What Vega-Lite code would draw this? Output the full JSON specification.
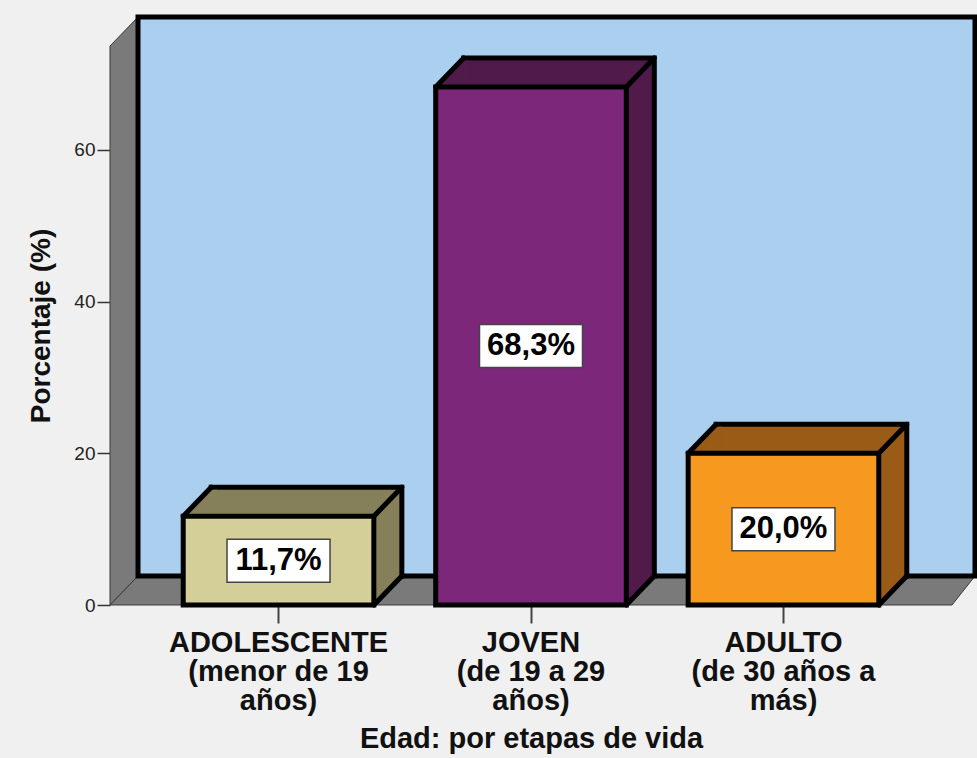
{
  "$schema": "https://vega.github.io/schema/vega-lite/v6.json",
  "width": 842,
  "height": 559,
  "autosize": {"type": "none"},
  "padding": {"left": 110, "top": 46, "right": 25, "bottom": 153},
  "background": "#f0f0f0",
  "config": {
    "view": {"stroke": null},
    "font": "Liberation Sans",
    "axis": {"grid": false, "domain": false},
    "axisX": {"titleFontSize": 29, "titleFontWeight": "bold", "titleColor": "#111111", "titlePadding": 9,
      "labelFontSize": 29, "labelFontWeight": "bold", "labelColor": "#111111", "labelLineHeight": 29, "labelAngle": 0,
      "labelLimit": 400, "labelOverlap": false, "labelPadding": 5, "tickSize": 18, "tickColor": "#444444", "tickWidth": 2},
    "axisY": {"titleFontSize": 28, "titleFontWeight": "bold", "titleColor": "#111111", "titlePadding": 18,
      "labelFontSize": 19, "labelColor": "#222222", "labelPadding": 2, "tickSize": 13, "tickColor": "#333333", "tickWidth": 1.5}
  },
  "data": {
    "values": [
      {"etapa": "ADOLESCENTE\n(menor de 19\naños)", "porcentaje": 11.7, "etiqueta": "11,7%"},
      {"etapa": "JOVEN\n(de 19 a 29\naños)", "porcentaje": 68.3, "etiqueta": "68,3%"},
      {"etapa": "ADULTO\n(de 30 años a\nmás)", "porcentaje": 20.0, "etiqueta": "20,0%"}
    ]
  },
  "layer": [
    {
      "mark": {"type": "bar", "stroke": "#000000", "strokeWidth": 5, "strokeJoin": "miter", "opacity": 0},
      "encoding": {
        "x": {"field": "etapa", "type": "nominal", "sort": null,
          "scale": {"paddingInner": 0.245, "paddingOuter": 0.29},
          "axis": {"title": "Edad: por etapas de vida", "labelExpr": "split(datum.label, '\\n')"}},
        "y": {"field": "porcentaje", "type": "quantitative",
          "scale": {"domain": [0, 73.7], "nice": false, "zero": true},
          "axis": {"values": [0, 20, 40, 60], "title": "Porcentaje (%)"}}
      }
    },
    {
      "data": {"values": [{"parte": "pared"}]},
      "mark": {"type": "point", "shape": "M0,0L28,-29L28,530L0,559Z", "size": 4, "filled": true, "fill": "#7a7a7a", "stroke": "#3a3a3a", "strokeWidth": 1, "opacity": 1},
      "encoding": {"x": {"value": 0}, "y": {"datum": 73.7, "type": "quantitative"}}
    },
    {
      "data": {"values": [{"parte": "suelo"}]},
      "mark": {"type": "point", "shape": "M0,0L28,-29L865,-29L842,0Z", "size": 4, "filled": true, "fill": "#7a7a7a", "stroke": "#3a3a3a", "strokeWidth": 1, "opacity": 1},
      "encoding": {"x": {"value": 0}, "y": {"datum": 0, "type": "quantitative"}}
    },
    {
      "data": {"values": [{"parte": "fondo"}]},
      "mark": {"type": "point", "shape": "M28,-29L865,-29L865,530L28,530Z", "size": 4, "filled": true, "fill": "#abcfee", "stroke": "#000000", "strokeWidth": 5, "strokeJoin": "miter", "opacity": 1},
      "encoding": {"x": {"value": 0}, "y": {"datum": 73.7, "type": "quantitative"}}
    },
    {
      "mark": {"type": "bar", "xOffset": 28, "yOffset": -29, "y2Offset": -29, "stroke": "#000000", "strokeWidth": 5, "strokeJoin": "miter"},
      "encoding": {
        "x": {"field": "etapa", "type": "nominal", "sort": null},
        "y": {"field": "porcentaje", "type": "quantitative"},
        "fill": {"field": "etapa", "type": "nominal", "sort": null, "legend": null,
          "scale": {"domain": ["ADOLESCENTE\n(menor de 19\naños)", "JOVEN\n(de 19 a 29\naños)", "ADULTO\n(de 30 años a\nmás)"], "range": ["#85805a", "#501a4b", "#9a5b16"]}}
      }
    },
    {
      "mark": {"type": "point", "shape": "M0,0L25.6,-26.5L34,-26.5L34,0Z", "size": 4, "filled": true, "strokeWidth": 0, "opacity": 1},
      "encoding": {
        "x": {"field": "etapa", "type": "nominal", "sort": null, "bandPosition": 0},
        "y": {"field": "porcentaje", "type": "quantitative"},
        "fill": {"field": "etapa", "type": "nominal", "sort": null, "legend": null,
          "scale": {"domain": ["ADOLESCENTE\n(menor de 19\naños)", "JOVEN\n(de 19 a 29\naños)", "ADULTO\n(de 30 años a\nmás)"], "range": ["#85805a", "#501a4b", "#9a5b16"]}}
      }
    },
    {
      "mark": {"type": "point", "shape": "M-3,0L0,0L25.5,-26.4L25.5,-32L-3,-32Z", "size": 4, "filled": true, "strokeWidth": 0, "opacity": 1},
      "encoding": {
        "x": {"field": "etapa", "type": "nominal", "sort": null, "bandPosition": 1},
        "y": {"datum": 0, "type": "quantitative"},
        "fill": {"field": "etapa", "type": "nominal", "sort": null, "legend": null,
          "scale": {"domain": ["ADOLESCENTE\n(menor de 19\naños)", "JOVEN\n(de 19 a 29\naños)", "ADULTO\n(de 30 años a\nmás)"], "range": ["#85805a", "#501a4b", "#9a5b16"]}}
      }
    },
    {
      "mark": {"type": "point", "shape": "M0,0L28,-29", "size": 4, "filled": false, "stroke": "#000000", "strokeWidth": 5, "strokeCap": "round", "opacity": 1},
      "encoding": {
        "x": {"field": "etapa", "type": "nominal", "sort": null, "bandPosition": 0},
        "y": {"field": "porcentaje", "type": "quantitative"}
      }
    },
    {
      "mark": {"type": "point", "shape": "M0,0L28,-29", "size": 4, "filled": false, "stroke": "#000000", "strokeWidth": 5, "strokeCap": "round", "opacity": 1},
      "encoding": {
        "x": {"field": "etapa", "type": "nominal", "sort": null, "bandPosition": 1},
        "y": {"field": "porcentaje", "type": "quantitative"}
      }
    },
    {
      "mark": {"type": "point", "shape": "M0,0L28,-29", "size": 4, "filled": false, "stroke": "#000000", "strokeWidth": 5, "strokeCap": "round", "opacity": 1},
      "encoding": {
        "x": {"field": "etapa", "type": "nominal", "sort": null, "bandPosition": 1},
        "y": {"datum": 0, "type": "quantitative"}
      }
    },
    {
      "mark": {"type": "bar", "stroke": "#000000", "strokeWidth": 5, "strokeJoin": "miter"},
      "encoding": {
        "x": {"field": "etapa", "type": "nominal", "sort": null},
        "y": {"field": "porcentaje", "type": "quantitative"},
        "fill": {"field": "etapa", "type": "nominal", "sort": null, "legend": null,
          "scale": {"domain": ["ADOLESCENTE\n(menor de 19\naños)", "JOVEN\n(de 19 a 29\naños)", "ADULTO\n(de 30 años a\nmás)"], "range": ["#d4cf98", "#7c277a", "#f7981f"]}}
      }
    },
    {
      "mark": {"type": "point", "shape": "M-51.5,-21.5L51.5,-21.5L51.5,21.5L-51.5,21.5Z", "size": 4, "filled": true, "fill": "#ffffff", "stroke": "#444444", "strokeWidth": 1.5, "opacity": 1},
      "encoding": {
        "x": {"field": "etapa", "type": "nominal", "sort": null},
        "y": {"field": "porcentaje", "type": "quantitative", "stack": "zero", "bandPosition": 0.5}
      }
    },
    {
      "mark": {"type": "text", "fontSize": 31, "fontWeight": "bold", "color": "#000000", "align": "center", "baseline": "middle"},
      "encoding": {
        "x": {"field": "etapa", "type": "nominal", "sort": null},
        "y": {"field": "porcentaje", "type": "quantitative", "stack": "zero", "bandPosition": 0.5},
        "text": {"field": "etiqueta", "type": "nominal"}
      }
    }
  ],
  "resolve": {"scale": {"fill": "independent"}}
}
